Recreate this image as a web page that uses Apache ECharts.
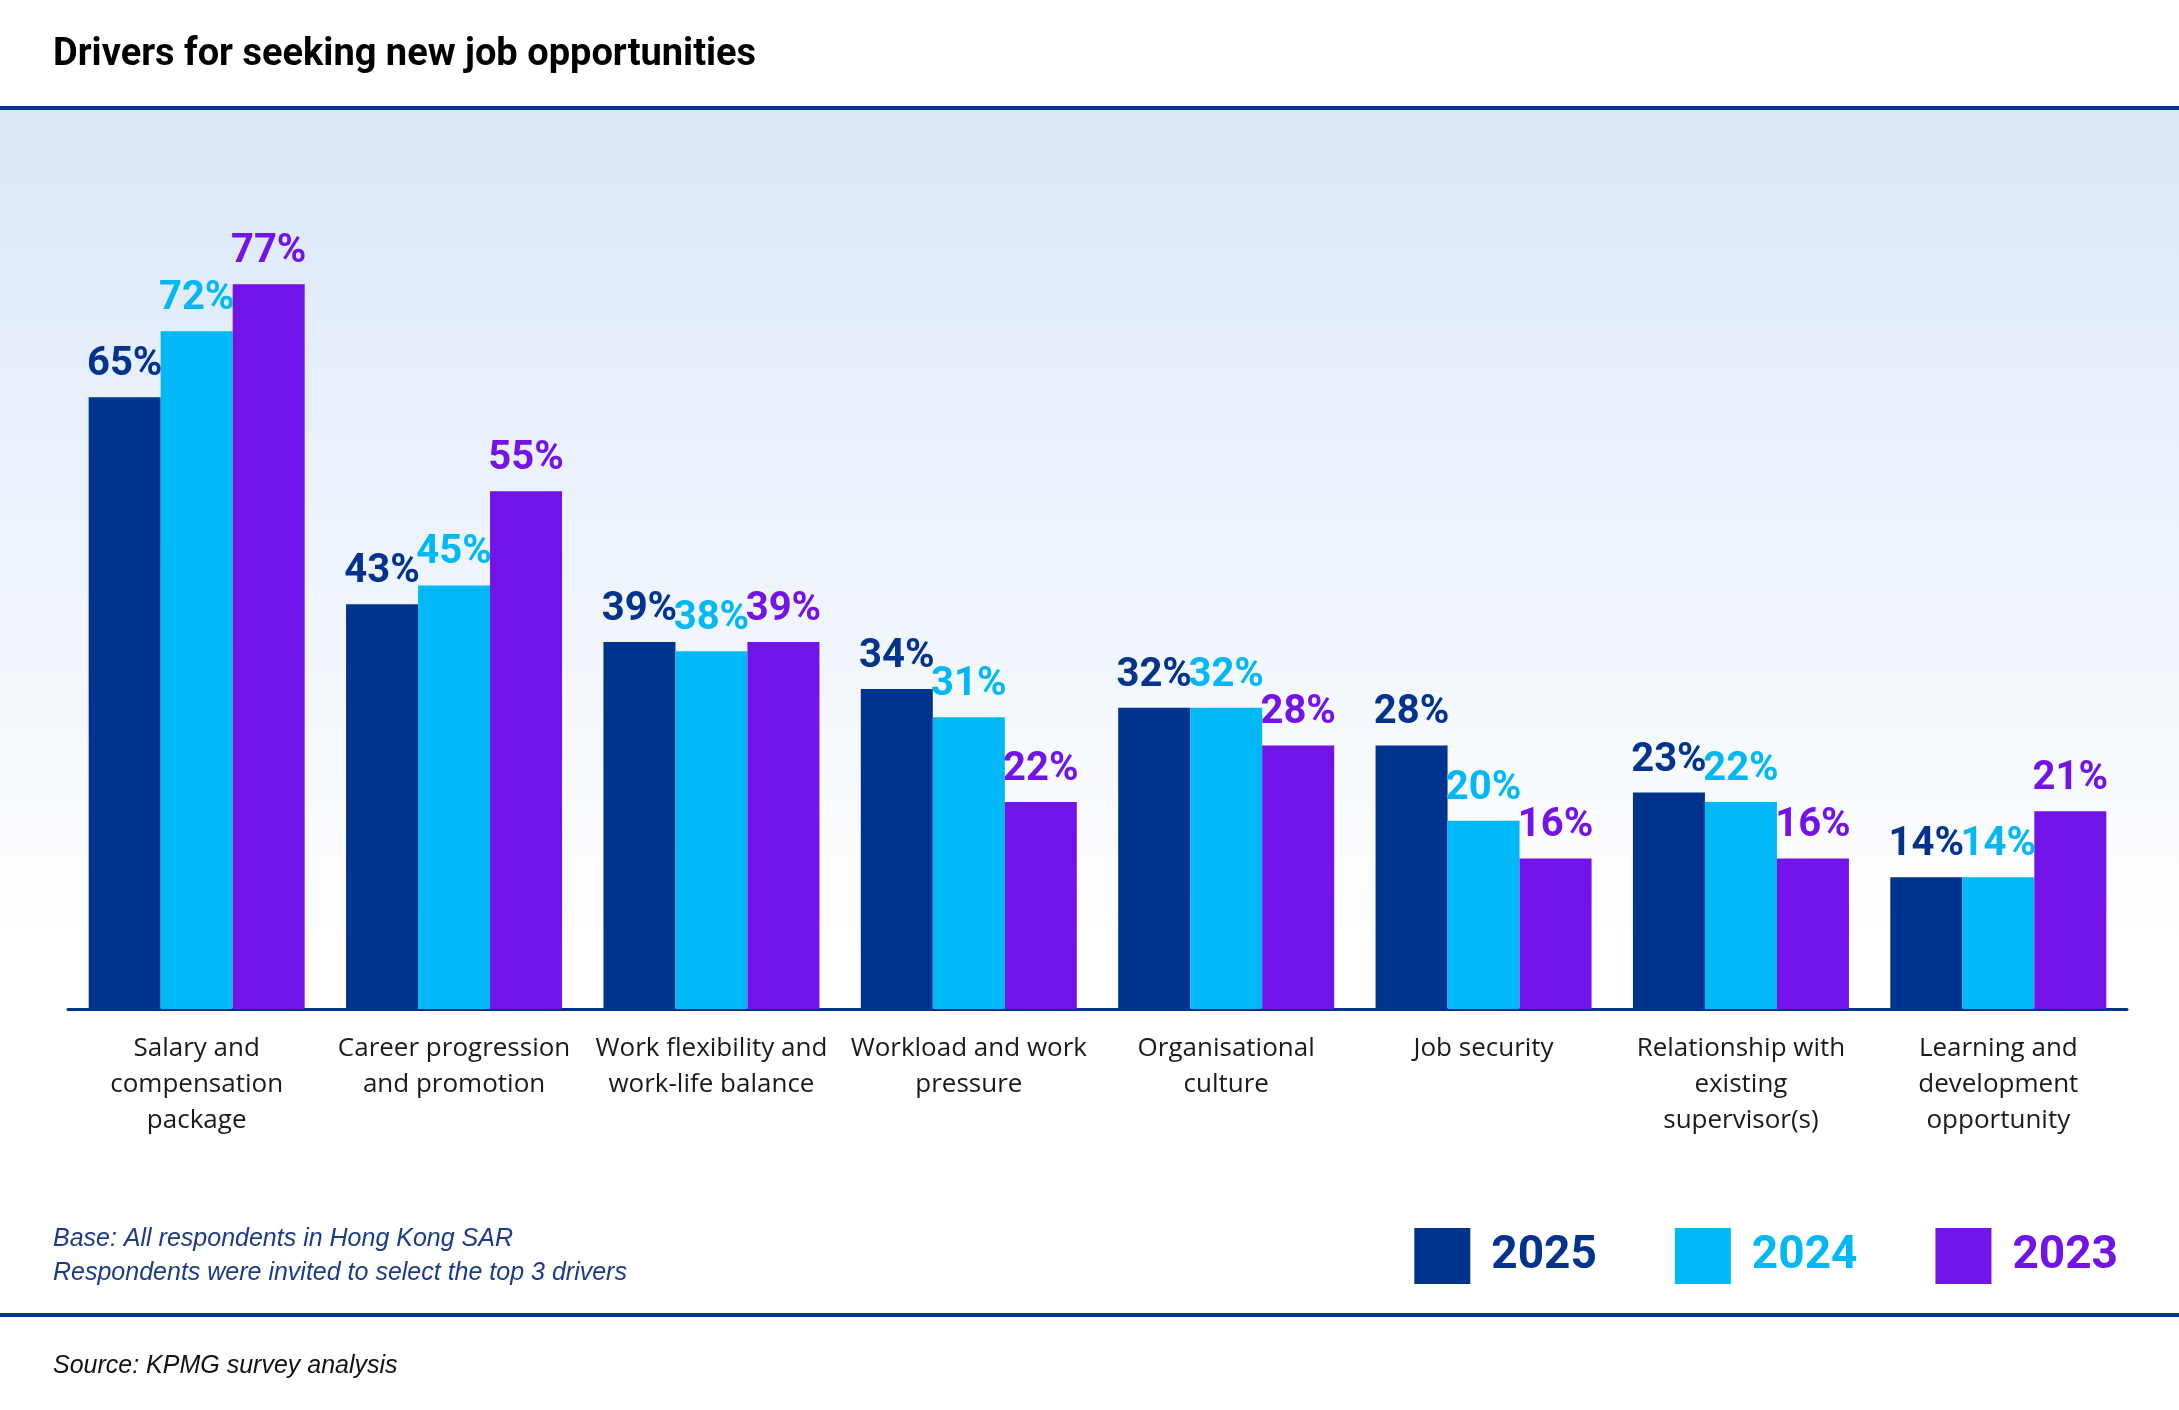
<!DOCTYPE html>
<html><head><meta charset="utf-8">
<script src="https://cdn.jsdelivr.net/npm/echarts@6/dist/echarts.min.js"></script>
<style>html,body{margin:0;padding:0;background:#fff}#c{width:2179px;height:1410px}</style>
</head><body><div id="c"></div>
<script>
const categories = ["Salary and\ncompensation\npackage","Career progression\nand promotion","Work flexibility and\nwork-life balance","Workload and work\npressure","Organisational\nculture","Job security","Relationship with\nexisting\nsupervisor(s)","Learning and\ndevelopment\nopportunity"];
const years = ["2025","2024","2023"];
const v2025 = [65,43,39,34,32,28,23,14];
const v2024 = [72,45,38,31,32,20,22,14];
const v2023 = [77,55,39,22,28,16,16,21];
const colors = ["#00338d","#00b8f5","#7213ea"];
const cond = "'Roboto',sans-serif";
const chart = echarts.init(document.getElementById('c'));
function ser(name, data, col){
  return {name, type:'bar', data, barWidth:72, barGap:'0%', barCategoryGap:'16%',
    itemStyle:{color:col},
    label:{show:true, position:'top', distance:12, formatter:'{c}%', color:col,
      fontFamily:cond, fontWeight:'bold', fontSize:40}};
}
chart.setOption({
  animation:false,
  graphic:[
    {type:'rect', z:-10, shape:{x:0,y:110,width:2179,height:1203},
      style:{fill:new echarts.graphic.LinearGradient(0,0,0,1,[{offset:0,color:'#dae7f7'},{offset:0.7,color:'#ffffff'},{offset:1,color:'#ffffff'}])}},
    {type:'rect', shape:{x:0,y:106,width:2179,height:4}, style:{fill:'#00338d'}},
    {type:'rect', shape:{x:0,y:1313,width:2179,height:4}, style:{fill:'#00338d'}},
    {type:'text', left:53, top:36, style:{text:'Drivers for seeking new job opportunities', fill:'#000', font:"bold 38px "+cond}},
    {type:'text', left:53, top:1222, style:{text:'Base: All respondents in Hong Kong SAR\nRespondents were invited to select the top 3 drivers', fill:'#1a3a8a', font:"italic 25px 'Liberation Sans',sans-serif", lineHeight:34}},
    {type:'text', left:53, top:1354, style:{text:'Source: KPMG survey analysis', fill:'#111', font:"italic 25px 'Liberation Sans',sans-serif"}}
  ],
  legend:{right:56, top:1223, itemWidth:56, itemHeight:56, itemGap:78, icon:'rect',
    textStyle:{fontFamily:cond, fontWeight:'bold', fontSize:46, padding:[0,0,0,16]},
    data:years.map((y,i)=>({name:y, textStyle:{color:colors[i]}}))},
  grid:{left:68, right:52, top:256, bottom:401},
  xAxis:{type:'category', data:categories,
    axisLine:{lineStyle:{color:'#00338d', width:3}}, axisTick:{show:false},
    axisLabel:{interval:0, color:'#1a1a1a', fontSize:26, lineHeight:36, margin:22, fontFamily:"'Open Sans',sans-serif"}},
  yAxis:{type:'value', min:0, max:80, show:false, splitLine:{show:false}},
  series:[ser('2025',v2025,colors[0]), ser('2024',v2024,colors[1]), ser('2023',v2023,colors[2])]
});
</script></body></html>
